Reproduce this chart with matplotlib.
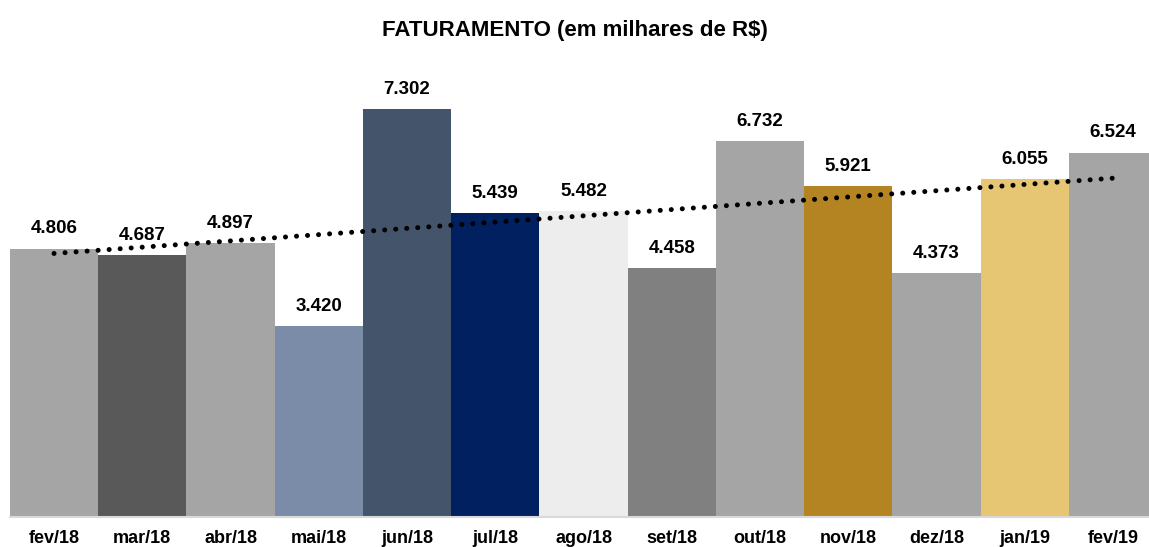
import numpy as np
import matplotlib
matplotlib.use('Agg')
import matplotlib.pyplot as plt

plt.rcParams['font.family'] = ['Liberation Sans', 'DejaVu Sans']

# data
months = ['fev/18', 'mar/18', 'abr/18', 'mai/18', 'jun/18', 'jul/18', 'ago/18',
          'set/18', 'out/18', 'nov/18', 'dez/18', 'jan/19', 'fev/19']
faturamento = [4.806, 4.687, 4.897, 3.420, 7.302, 5.439, 5.482,
               4.458, 6.732, 5.921, 4.373, 6.055, 6.524]
bar_colors = ['#A5A5A5', '#595959', '#A5A5A5', '#7A8CA7', '#44546A', '#002060',
              '#EDEDED', '#808080', '#A5A5A5', '#B38421', '#A5A5A5', '#E6C573',
              '#A5A5A5']

fig = plt.figure(figsize=(11.49, 5.47), dpi=100)
ax = fig.add_axes([0.0086, 0.0548, 0.9985, 0.817])

x = np.arange(len(months))
ax.bar(x, faturamento, width=1.0, color=bar_colors, edgecolor='none')

for xi, v in zip(x, faturamento):
    ax.annotate('{:.3f}'.format(v), (xi, v), xytext=(0, 8),
                textcoords='offset points', ha='center', va='bottom',
                fontsize=13.5, fontweight='bold')

# linear trend line
coef = np.polyfit(x, faturamento, 1)
ax.plot(x, np.polyval(coef, x), color='black', linewidth=3.6,
        linestyle=(0, (0.01, 2.2)), dash_capstyle='round')

ax.set_xlim(-0.5, len(months) - 0.5)
ax.set_ylim(0, 8)
ax.set_xticks(x)
ax.set_xticklabels(months, fontsize=13, fontweight='bold')
ax.tick_params(axis='x', length=0, pad=9.5)
ax.set_yticks([])
for side in ['left', 'right', 'top']:
    ax.spines[side].set_visible(False)
ax.spines['bottom'].set_color('#D9D9D9')
ax.spines['bottom'].set_linewidth(1.5)

fig.text(0.5, 0.945, 'FATURAMENTO (em milhares de R$)', ha='center',
         va='center', fontsize=16, fontweight='bold')

fig.savefig('out.png', dpi=100)
